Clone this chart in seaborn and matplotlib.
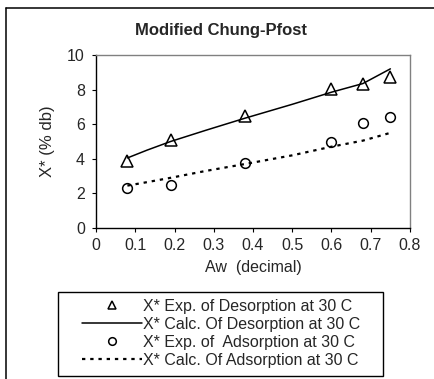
import matplotlib
matplotlib.use("Agg")
import matplotlib.pyplot as plt
from matplotlib.lines import Line2D
from matplotlib.patches import Rectangle
import seaborn as sns
import pandas as pd

# Data
aw_exp = [0.08, 0.19, 0.38, 0.60, 0.68, 0.75]
des_exp = [3.9, 5.1, 6.5, 8.05, 8.3, 8.75]
ads_exp = [2.3, 2.5, 3.75, 4.95, 6.05, 6.4]

aw_calc = [0.08, 0.13, 0.19, 0.28, 0.38, 0.50, 0.60, 0.68, 0.75]
des_calc = [4.05, 4.5, 5.0, 5.65, 6.35, 7.15, 7.85, 8.35, 9.2]
ads_calc = [2.45, 2.65, 2.9, 3.3, 3.7, 4.2, 4.7, 5.05, 5.5]

labels = ["X* Exp. of Desorption at 30 C",
          "X* Calc. Of Desorption at 30 C",
          "X* Exp. of  Adsorption at 30 C",
          "X* Calc. Of Adsorption at 30 C"]
title = "Modified Chung-Pfost"
xlabel = "Aw  (decimal)"
ylabel = "X* (% db)"

sns.set_style("white")
plt.rcParams['font.family'] = ['Liberation Sans', 'DejaVu Sans']
plt.rcParams['font.size'] = 11.5

W, H = 435, 379
fig = plt.figure(figsize=(W / 100, H / 100), dpi=100)
ax = fig.add_axes([96 / W, 1 - 228 / H, (410 - 96) / W, (228 - 55) / H])

df_exp = pd.DataFrame({"aw": aw_exp, "des": des_exp, "ads": ads_exp})
df_calc = pd.DataFrame({"aw": aw_calc, "des": des_calc, "ads": ads_calc})

sns.lineplot(data=df_exp, x="aw", y="des", ax=ax, linestyle='', marker='^',
             markersize=8, markerfacecolor='none', markeredgecolor='black',
             markeredgewidth=1.1, color='black', label=labels[0])
sns.lineplot(data=df_calc, x="aw", y="des", ax=ax, color='black', linewidth=1.1,
             label=labels[1])
sns.lineplot(data=df_exp, x="aw", y="ads", ax=ax, linestyle='', marker='o',
             markersize=7, markerfacecolor='none', markeredgecolor='black',
             markeredgewidth=1.1, color='black', label=labels[2])
sns.lineplot(data=df_calc, x="aw", y="ads", ax=ax, color='black', linewidth=1.6,
             linestyle=(0, (1.5, 2.2)), label=labels[3])

ax.set_xlim(0, 0.8)
ax.set_ylim(0, 10)
ax.set_xticks([0, 0.1, 0.2, 0.3, 0.4, 0.5, 0.6, 0.7, 0.8])
ax.set_xticklabels(["0", "0.1", "0.2", "0.3", "0.4", "0.5", "0.6", "0.7", "0.8"])
ax.set_yticks([0, 2, 4, 6, 8, 10])
ax.set_yticklabels(["0", "2", "4", "6", "8", "10"])
ax.tick_params(axis='both', direction='out', length=3, width=0.8, color='black',
               labelsize=11.5, pad=5, left=True, bottom=True)
ax.tick_params(axis='x', pad=4)
for s in ['left', 'bottom']:
    ax.spines[s].set_color('black')
    ax.spines[s].set_linewidth(1.0)
for s in ['top', 'right']:
    ax.spines[s].set_color('#808080')
    ax.spines[s].set_linewidth(1.0)

ax.set_xlabel(xlabel, fontsize=11.5, labelpad=5)
ax.set_ylabel(ylabel, fontsize=12, labelpad=9)

fig.text(221 / W, 1 - 30 / H, title, ha='center', va='center',
         fontsize=12, fontweight='bold')

handles, labs = ax.get_legend_handles_labels()
if ax.legend_:
    ax.legend_.remove()

# legend box
fig.add_artist(Rectangle((58 / W, 1 - 376 / H), (383 - 58) / W, (376 - 292) / H,
                         transform=fig.transFigure, facecolor='white',
                         edgecolor='black', linewidth=1.0, zorder=1))
leg = fig.legend(handles, labs, loc='upper left',
                 bbox_to_anchor=(82 / W, 1 - 299 / H), frameon=False,
                 fontsize=11.5, handlelength=3.75, handletextpad=0.08,
                 labelspacing=0.18, borderpad=0, borderaxespad=0)
leg.set_zorder(2)
for h in leg.legend_handles:
    if h.get_marker() in ('^', 'o'):
        h.set_markersize(5.5)

# outer border (partially visible)
fig.add_artist(Line2D([6 / W, 6 / W], [0, 1 - 8 / H], color='black', lw=1.1,
                      transform=fig.transFigure))
fig.add_artist(Line2D([6 / W, 1], [1 - 8 / H, 1 - 8 / H], color='black', lw=1.1,
                      transform=fig.transFigure))

fig.savefig("out.png", dpi=100)
